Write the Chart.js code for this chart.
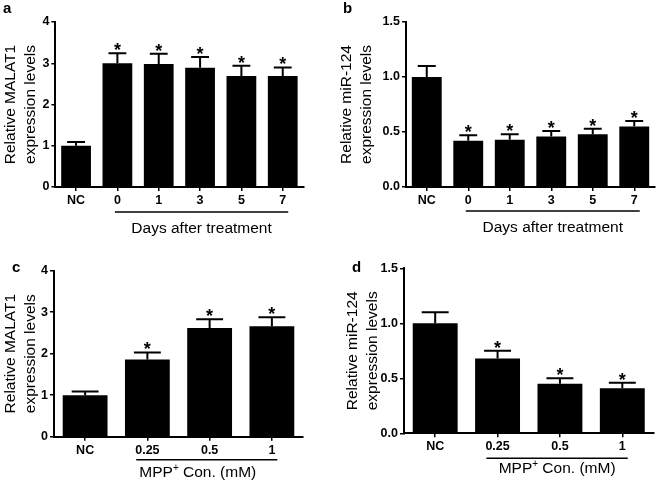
<!DOCTYPE html>
<html><head><meta charset="utf-8">
<script src="https://cdn.jsdelivr.net/npm/chart.js@4.4.1/dist/chart.umd.min.js"></script>
<style>
html,body{margin:0;padding:0;background:#fff;}
#wrap{position:relative;width:658px;height:482px;overflow:hidden;background:#fff;}
canvas{position:absolute;}
</style></head><body>
<div id="wrap">
<canvas id="ca" width="329" height="240" style="left:0px;top:0px"></canvas>
<canvas id="cb" width="329" height="240" style="left:329px;top:0px"></canvas>
<canvas id="cc" width="329" height="242" style="left:0px;top:240px"></canvas>
<canvas id="cd" width="329" height="242" style="left:329px;top:240px"></canvas>
</div>
<script>
// ---- data ----
const daysCategories = ['NC', '0', '1', '3', '5', '7'];
const mppCategories = ['NC', '0.25', '0.5', '1'];

const malat1Days = [1.0, 3.0, 2.98, 2.89, 2.69, 2.69];
const malat1DaysErr = [0.09, 0.24, 0.25, 0.26, 0.25, 0.21];
const malat1DaysSig = [false, true, true, true, true, true];

const mir124Days = [1.0, 0.42, 0.43, 0.46, 0.48, 0.55];
const mir124DaysErr = [0.1, 0.05, 0.05, 0.05, 0.05, 0.05];
const mir124DaysSig = [false, true, true, true, true, true];

const malat1Mpp = [1.0, 1.86, 2.62, 2.66];
const malat1MppErr = [0.09, 0.17, 0.21, 0.22];
const malat1MppSig = [false, true, true, true];

const mir124Mpp = [1.0, 0.68, 0.45, 0.41];
const mir124MppErr = [0.1, 0.07, 0.05, 0.05];
const mir124MppSig = [false, true, true, true];

const malat1Ticks = [0, 1, 2, 3, 4];
const mir124Ticks = [0, 0.5, 1.0, 1.5];

const malat1Title = ['Relative MALAT1', 'expression levels'];
const mir124Title = ['Relative miR-124', 'expression levels'];
const daysTitle = [{t: 'Days after treatment'}];
const mppTitle = [{t: 'MPP'}, {t: '+', sup: true}, {t: ' Con. (mM)'}];

// ---- drawing ----
const FONT = '"Liberation Sans", Arial, Helvetica, sans-serif';

function makeDecor(p) {
  return {
    id: 'decor' + p.letter,
    afterDatasetsDraw(chart) {
      const ctx = chart.ctx, xs = chart.scales.x, ys = chart.scales.y;
      const meta = chart.getDatasetMeta(0);
      ctx.save();
      ctx.strokeStyle = '#000'; ctx.fillStyle = '#000';
      ctx.lineWidth = 2;
      p.values.forEach((v, i) => {
        const bar = meta.data[i];
        const cx = bar.x, w = bar.width;
        const yTop = ys.getPixelForValue(v);
        const yCap = ys.getPixelForValue(v + p.errors[i]);
        ctx.beginPath();
        ctx.moveTo(cx, yTop); ctx.lineTo(cx, yCap);
        ctx.moveTo(cx - w * 0.3, yCap); ctx.lineTo(cx + w * 0.3, yCap);
        ctx.stroke();
        if (p.sig[i]) {
          ctx.font = 'bold 18px ' + FONT;
          ctx.textAlign = 'center'; ctx.textBaseline = 'alphabetic';
          ctx.fillText('*', cx, yCap + 3);
        }
      });
      // group underline
      ctx.font = 'bold 12.5px ' + FONT;
      const n = p.labels.length;
      const w1 = ctx.measureText(p.labels[1]).width;
      const wn = ctx.measureText(p.labels[n - 1]).width;
      const x1 = xs.getPixelForValue(1) - w1 / 2 + 1;
      const x2 = xs.getPixelForValue(n - 1) + wn / 2 + 2;
      const ly = chart.chartArea.bottom + p.lineOff;
      ctx.lineWidth = 1.5;
      ctx.beginPath(); ctx.moveTo(x1, ly); ctx.lineTo(x2, ly); ctx.stroke();
      // group title with optional superscript
      const big = '15.5px ' + FONT, small = '10px ' + FONT;
      let total = 0;
      p.group.forEach(s => { ctx.font = s.sup ? small : big; total += ctx.measureText(s.t).width; });
      let tx = (x1 + x2) / 2 - total / 2 + p.textShift;
      const ty = chart.chartArea.bottom + p.textOff;
      ctx.textAlign = 'left'; ctx.textBaseline = 'alphabetic';
      p.group.forEach(s => {
        ctx.font = s.sup ? small : big;
        ctx.fillText(s.t, tx, s.sup ? ty - 6 : ty);
        tx += ctx.measureText(s.t).width;
      });
      // panel letter
      ctx.font = 'bold 15px ' + FONT;
      ctx.fillText(p.letter, p.letterX, p.letterY);
      ctx.restore();
    }
  };
}

function makeChart(id, p) {
  const canvas = document.getElementById(id);
  const H = canvas.height, W = canvas.width;
  return new Chart(canvas, {
    type: 'bar',
    data: {
      labels: p.labels,
      datasets: [{ data: p.values, backgroundColor: '#000', borderWidth: 0,
        barPercentage: 0.72, categoryPercentage: 1 }]
    },
    options: {
      responsive: false, animation: false, devicePixelRatio: 1,
      layout: { padding: { left: p.padLeft, top: p.area.top, right: W - p.area.right, bottom: 0 } },
      plugins: { legend: { display: false }, tooltip: { enabled: false }, title: { display: false } },
      scales: {
        x: {
          offset: true,
          ticks: { color: '#000', font: { family: FONT, size: 12.5, weight: 'bold' }, padding: 2, autoSkip: false, maxRotation: 0 },
          grid: { display: true, drawOnChartArea: false, drawTicks: true, tickLength: 4, offset: false, color: '#000', lineWidth: 1.5 },
          border: { display: true, color: '#000', width: 2 },
          afterFit: s => { s.height = H - p.area.bottom; }
        },
        y: {
          min: p.ticks[0], max: p.ticks[p.ticks.length - 1],
          afterBuildTicks: s => { s.ticks = p.ticks.map(v => ({ value: v })); },
          ticks: { color: '#000', font: { family: FONT, size: 12.5, weight: 'bold' }, padding: 2,
            callback: v => p.decimals ? Number(v).toFixed(p.decimals) : String(v) },
          grid: { display: true, drawOnChartArea: false, drawTicks: true, tickLength: 4, color: '#000', lineWidth: 1.5 },
          border: { display: true, color: '#000', width: 2 },
          title: { display: true, text: p.yTitle, color: '#000', padding: 0,
            font: { family: FONT, size: 15.5, lineHeight: '20px' } },
          afterFit: s => { s.width = p.area.left - p.padLeft; }
        }
      }
    },
    plugins: [makeDecor(p)]
  });
}

makeChart('ca', { letter: 'a', letterX: 3, letterY: 13, labels: daysCategories, values: malat1Days,
  errors: malat1DaysErr, sig: malat1DaysSig, ticks: malat1Ticks, decimals: 0, yTitle: malat1Title,
  group: daysTitle, padLeft: 1, area: { left: 55.4, right: 303.4, top: 22, bottom: 187 },
  lineOff: 25, textOff: 46, textShift: 0 });
makeChart('cb', { letter: 'b', letterX: 14, letterY: 13, labels: daysCategories, values: mir124Days,
  errors: mir124DaysErr, sig: mir124DaysSig, ticks: mir124Ticks, decimals: 1, yTitle: mir124Title,
  group: daysTitle, padLeft: 8, area: { left: 77, right: 326, top: 22, bottom: 187 },
  lineOff: 24, textOff: 45, textShift: 0 });
makeChart('cc', { letter: 'c', letterX: 12, letterY: 32, labels: mppCategories, values: malat1Mpp,
  errors: malat1MppErr, sig: malat1MppSig, ticks: malat1Ticks, decimals: 0, yTitle: malat1Title,
  group: mppTitle, padLeft: 1, area: { left: 54, right: 303, top: 30.7, bottom: 196.7 },
  lineOff: 23, textOff: 40, textShift: -9 });
makeChart('cd', { letter: 'd', letterX: 23, letterY: 32, labels: mppCategories, values: mir124Mpp,
  errors: mir124MppErr, sig: mir124MppSig, ticks: mir124Ticks, decimals: 1, yTitle: mir124Title,
  group: mppTitle, padLeft: 14, area: { left: 75, right: 324.5, top: 28.3, bottom: 193.3 },
  lineOff: 25, textOff: 40, textShift: 0 });
</script>
</body></html>
